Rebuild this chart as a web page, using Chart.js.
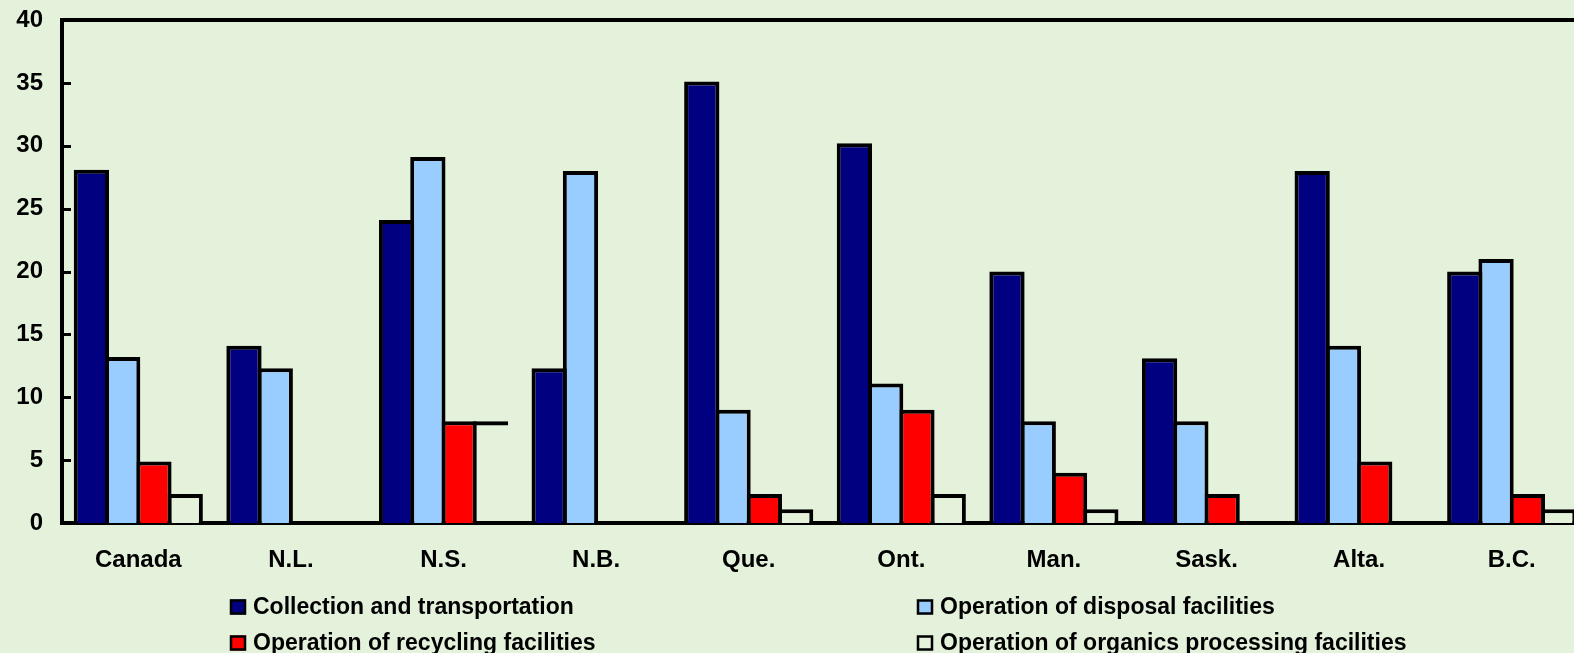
<!DOCTYPE html>
<html>
<head>
<meta charset="utf-8">
<title>Waste management employment by activity</title>
<script src="https://cdn.jsdelivr.net/npm/chart.js@4/dist/chart.umd.min.js"></script>
<style>
  html, body { margin: 0; padding: 0; background: #E4F1DB; overflow: hidden; }
  #wrap { position: absolute; left: 0; top: 0; width: 1588px; height: 653px; }
</style>
</head>
<body>
<div id="wrap"><canvas id="chart"></canvas></div>
<script>
// Categories (Canada and provinces)
const provinces = ['Canada', 'N.L.', 'N.S.', 'N.B.', 'Que.', 'Ont.', 'Man.', 'Sask.', 'Alta.', 'B.C.'];

// Series values
const collection = [28.1, 14.1, 24.1, 12.3, 35.1, 30.2, 20.0, 13.1, 28.0, 20.0];
const disposal   = [13.2, 12.3, 29.1, 28.0,  9.0, 11.1,  8.1,  8.1, 14.1, 21.0];
const recycling  = [ 4.9,  0,    8.1,  0,    2.3,  9.0,  4.0,  2.3,  4.9,  2.3];
const organics   = [ 2.3,  0,    8.1,  0,    1.1,  2.3,  1.1,  0,    0,    1.1];

// Series names
const seriesNames = [
  'Collection and transportation',
  'Operation of disposal facilities',
  'Operation of recycling facilities',
  'Operation of organics processing facilities'
];

// Value axis ticks
const yTicks = [0, 5, 10, 15, 20, 25, 30, 35, 40];

const BG = '#E4F1DB';
const FONT = "'Liberation Sans', Arial, sans-serif";
const EDGE = 4;

// Category whose organics bar is drawn as an open outline (top edge only)
const openTopCategory = 'N.S.';

Chart.defaults.font.family = FONT;
Chart.defaults.font.weight = 'bold';
Chart.defaults.color = '#000';

// Top frame line and inward tick marks on the value axis
const framePlugin = {
  id: 'frame',
  afterDraw(chart) {
    const { ctx, chartArea } = chart;
    const y = chart.scales.y;
    ctx.save();
    ctx.strokeStyle = '#000';
    ctx.lineWidth = 4;
    ctx.beginPath();
    ctx.moveTo(chartArea.left - 2, chartArea.top);
    ctx.lineTo(chartArea.right, chartArea.top);
    ctx.stroke();
    ctx.lineWidth = 3;
    yTicks.forEach(v => {
      const py = Math.round(y.getPixelForValue(v)) + 0.5;
      ctx.beginPath();
      ctx.moveTo(chartArea.left, py);
      ctx.lineTo(chartArea.left + 9, py);
      ctx.stroke();
    });
    ctx.restore();
  }
};

// Two-column legend under the axis
const legendPlugin = {
  id: 'twoColLegend',
  afterDraw(chart) {
    const { ctx } = chart;
    const cols = [230, 917];
    const rows = [607, 643];
    ctx.save();
    ctx.font = "bold 23px " + FONT;
    ctx.textBaseline = 'middle';
    ctx.textAlign = 'left';
    chart.data.datasets.forEach((ds, i) => {
      const x = cols[i % 2];
      const yc = rows[Math.floor(i / 2)];
      ctx.fillStyle = ds.legendColor;
      ctx.fillRect(x, yc - 7.5, 16, 15);
      ctx.strokeStyle = '#000';
      ctx.lineWidth = 2.5;
      ctx.strokeRect(x + 1, yc - 6.5, 14, 13);
      ctx.fillStyle = '#000';
      ctx.fillText(ds.label, x + 23, yc + 1);
    });
    ctx.restore();
  }
};

const organicsFill = ctx =>
  provinces[ctx.dataIndex] === openTopCategory ? 'rgba(0,0,0,0)' : BG;
const organicsBorder = ctx =>
  provinces[ctx.dataIndex] === openTopCategory
    ? { top: EDGE, left: 0, right: 0, bottom: 0 }
    : EDGE;

const barStyle = { borderColor: '#000', borderWidth: EDGE, borderSkipped: 'start', inflateAmount: 0 };

new Chart(document.getElementById('chart'), {
  type: 'bar',
  data: {
    labels: provinces,
    datasets: [
      { ...barStyle, label: seriesNames[0], data: collection, backgroundColor: '#000080', legendColor: '#000080' },
      { ...barStyle, label: seriesNames[1], data: disposal,   backgroundColor: '#99CCFF', legendColor: '#99CCFF' },
      { ...barStyle, label: seriesNames[2], data: recycling,  backgroundColor: '#FF0000', legendColor: '#FF0000' },
      { ...barStyle, label: seriesNames[3], data: organics,   backgroundColor: organicsFill, legendColor: BG, borderWidth: organicsBorder }
    ]
  },
  options: {
    responsive: true,
    maintainAspectRatio: false,
    animation: false,
    layout: { padding: { top: 20, left: 0, right: 0, bottom: 0 } },
    datasets: {
      bar: {
        barPercentage: 1.128,
        categoryPercentage: 0.82
      }
    },
    plugins: {
      legend: { display: false },
      tooltip: { enabled: false }
    },
    scales: {
      x: {
        grid: { display: false },
        border: { display: true, color: '#000', width: 4 },
        ticks: { font: { size: 24, weight: 'bold' }, padding: 15, maxRotation: 0, autoSkip: false },
        afterFit(scale) { scale.height = 130; scale.paddingLeft = 0; scale.paddingRight = 0; }
      },
      y: {
        min: 0,
        max: 40,
        grid: { display: false },
        border: { display: true, color: '#000', width: 4 },
        ticks: {
          stepSize: 5,
          font: { size: 24, weight: 'bold' },
          padding: 11,
          callback: v => yTicks.includes(v) ? String(v) : ''
        },
        afterFit(scale) { scale.width = 62; scale.paddingTop = 0; scale.paddingBottom = 0; }
      }
    }
  },
  plugins: [framePlugin, legendPlugin]
});
</script>
</body>
</html>
